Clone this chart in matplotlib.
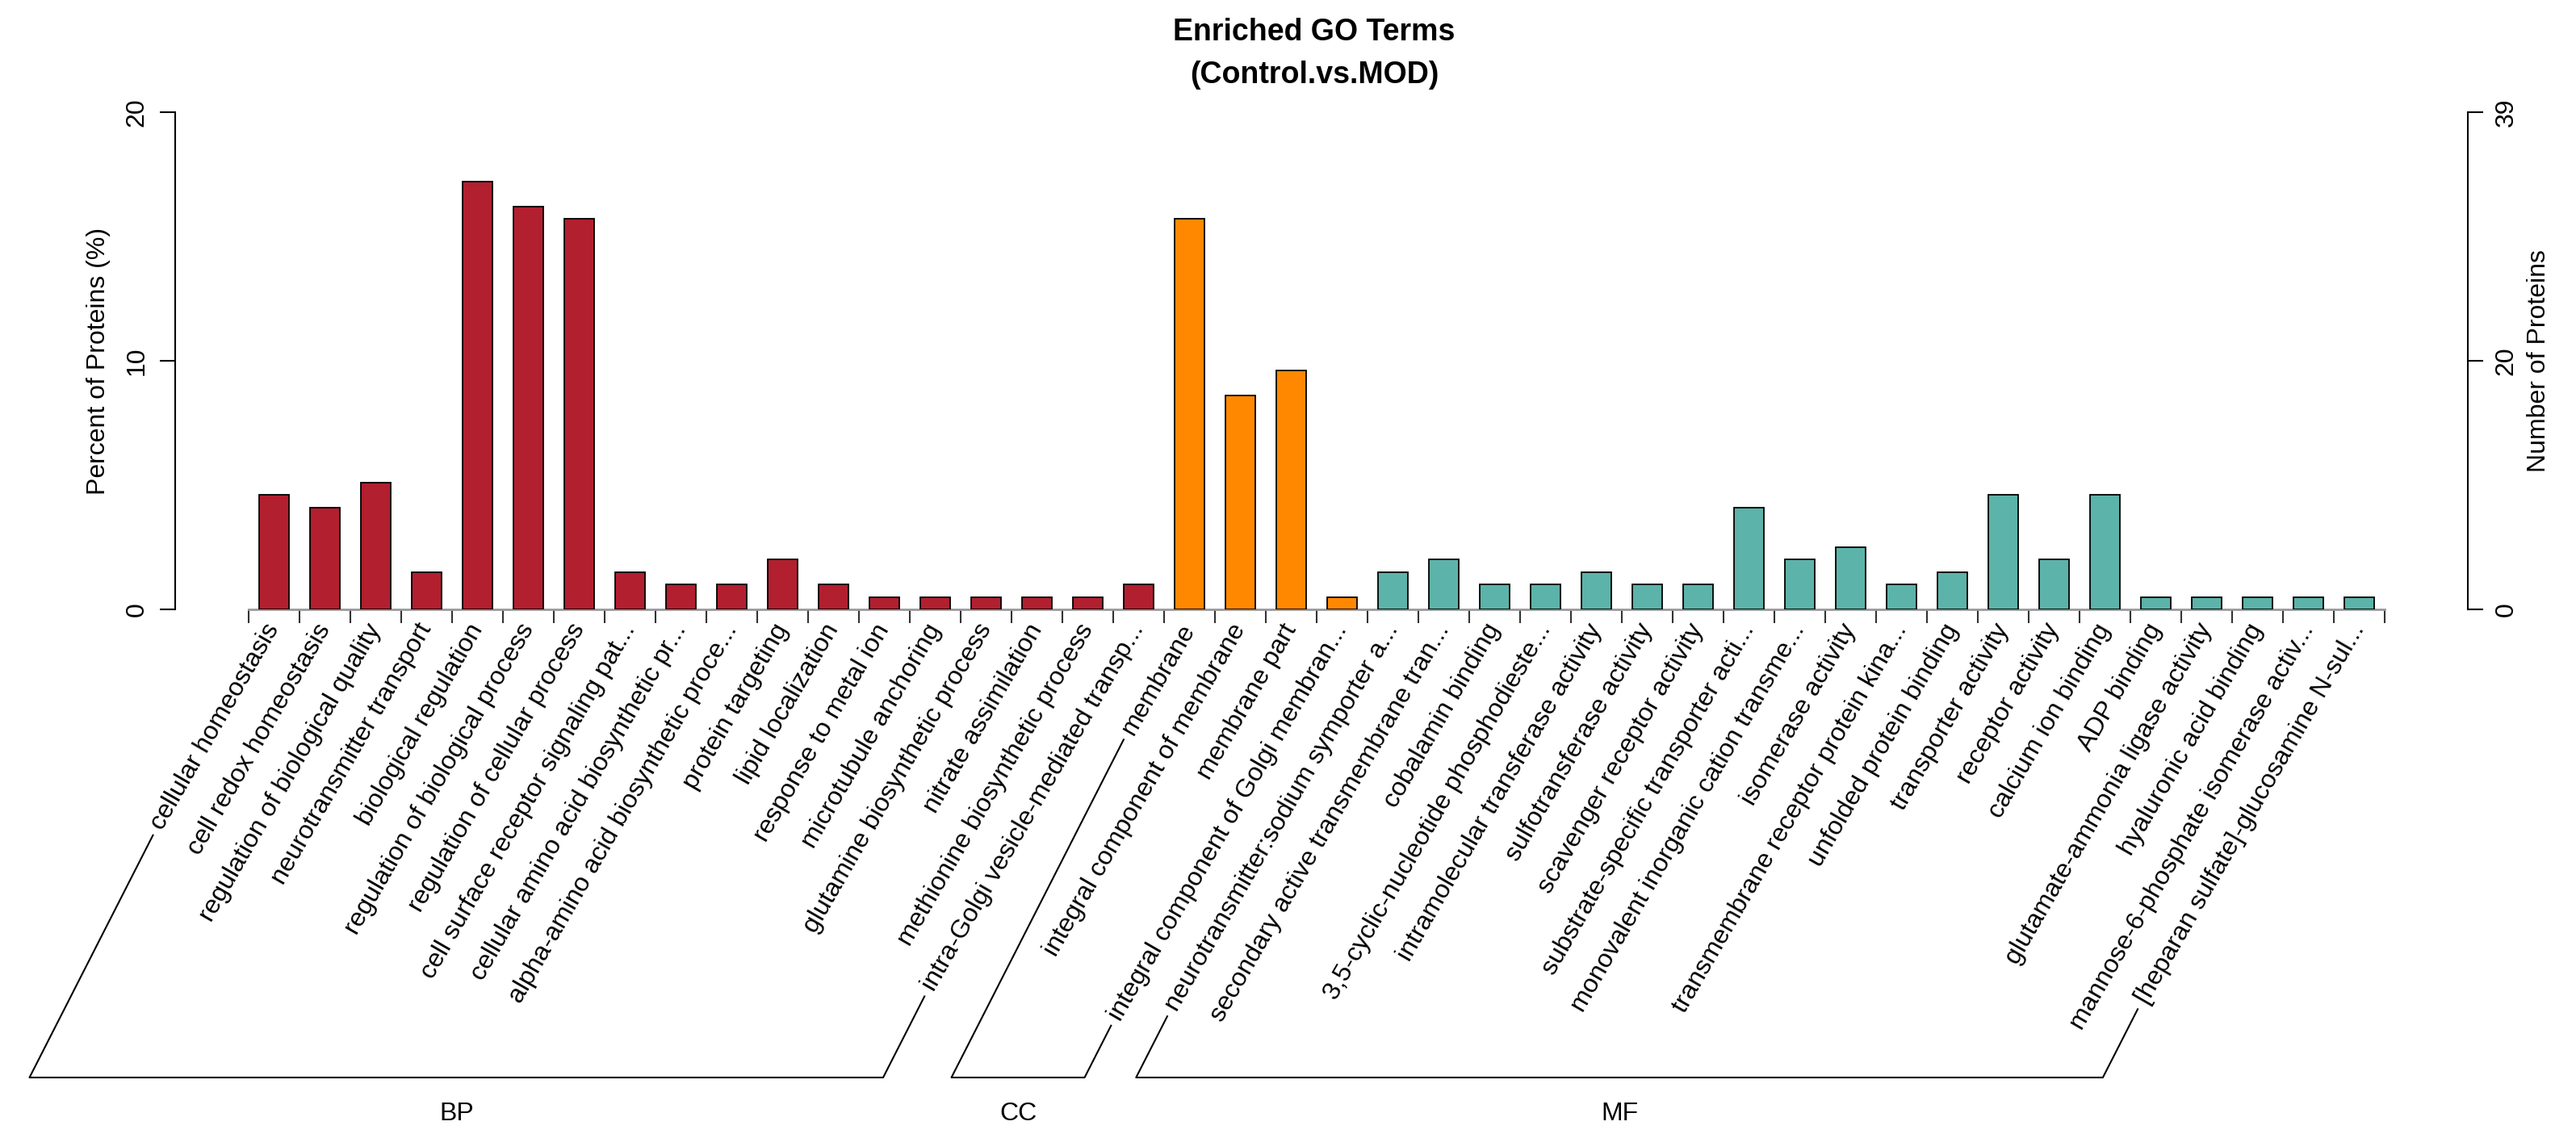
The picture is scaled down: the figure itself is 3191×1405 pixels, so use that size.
import numpy as np
import matplotlib.pyplot as plt
from matplotlib.lines import Line2D

plt.rcParams['font.family'] = ['Liberation Sans', 'DejaVu Sans']

# GO terms and percent of proteins
bp_terms = ['cellular homeostasis', 'cell redox homeostasis',
            'regulation of biological quality', 'neurotransmitter transport',
            'biological regulation', 'regulation of biological process',
            'regulation of cellular process', 'cell surface receptor signaling pat...',
            'cellular amino acid biosynthetic pr...', 'alpha-amino acid biosynthetic proce...',
            'protein targeting', 'lipid localization', 'response to metal ion',
            'microtubule anchoring', 'glutamine biosynthetic process',
            'nitrate assimilation', 'methionine biosynthetic process',
            'intra-Golgi vesicle-mediated transp...']
bp_pct = [4.6, 4.1, 5.1, 1.5, 17.2, 16.2, 15.7, 1.5, 1.0, 1.0,
          2.0, 1.0, 0.5, 0.5, 0.5, 0.5, 0.5, 1.0]

cc_terms = ['membrane', 'integral component of membrane', 'membrane part',
            'integral component of Golgi membran...']
cc_pct = [15.7, 8.6, 9.6, 0.5]

mf_terms = ['neurotransmitter:sodium symporter a...', 'secondary active transmembrane tran...',
            'cobalamin binding', '3,5-cyclic-nucleotide phosphodieste...',
            'intramolecular transferase activity', 'sulfotransferase activity',
            'scavenger receptor activity', 'substrate-specific transporter acti...',
            'monovalent inorganic cation transme...', 'isomerase activity',
            'transmembrane receptor protein kina...', 'unfolded protein binding',
            'transporter activity', 'receptor activity', 'calcium ion binding',
            'ADP binding', 'glutamate-ammonia ligase activity', 'hyaluronic acid binding',
            'mannose-6-phosphate isomerase activ...', '[heparan sulfate]-glucosamine N-sul...']
mf_pct = [1.5, 2.0, 1.0, 1.0, 1.5, 1.0, 1.0, 4.1, 2.0, 2.5,
          1.0, 1.5, 4.6, 2.0, 4.6, 0.5, 0.5, 0.5, 0.5, 0.5]

group_names = ['BP', 'CC', 'MF']
group_colors = ['#B21F2F', '#FF8800', '#5CB3A9']
left_ticks = [0, 10, 20]
right_ticklabels = ['0', '20', '39']

W, H = 3191, 1405
FS = 23
fig = plt.figure(figsize=(W / 100, H / 100), dpi=100)
ax = fig.add_axes([217 / W, 1 - 755 / H, (3057 - 217) / W, (755 - 139) / H])

groups = [bp_terms, cc_terms, mf_terms]
terms = bp_terms + cc_terms + mf_terms
pct = bp_pct + cc_pct + mf_pct
colors = []
for g, c in zip(groups, group_colors):
    colors += [c] * len(g)

x = np.arange(len(terms))
ax.bar(x, pct, width=0.59, color=colors, edgecolor='black', linewidth=1.3, zorder=3)
ax.set_xlim(-1.944, len(terms) - 0.5 + 1.635)
ax.set_ylim(0, 20)

for s in ['top', 'right']:
    ax.spines[s].set_visible(False)
ax.spines['left'].set_linewidth(1.5)
ax.spines['bottom'].set_bounds(-0.5, len(terms) - 0.5)
ax.spines['bottom'].set_color('#999999')
ax.spines['bottom'].set_linewidth(2)
ax.set_xticks(np.arange(len(terms) + 1) - 0.5)
ax.tick_params(axis='x', direction='out', length=12, width=1.5, color='#333333',
               labelbottom=False)
ax.set_yticks(left_ticks)
ax.tick_params(axis='y', direction='out', length=13.5, width=1.5, labelsize=FS,
               labelrotation=90, pad=10)
for t in ax.get_yticklabels():
    t.set_va('center')

ax2 = ax.twinx()
ax2.set_ylim(0, 20)
ax2.set_position(ax.get_position())
for s in ['top', 'left', 'bottom']:
    ax2.spines[s].set_visible(False)
ax2.spines['right'].set_linewidth(1.5)
ax2.set_yticks(left_ticks)
ax2.set_yticklabels(right_ticklabels)
ax2.tick_params(axis='y', direction='out', length=13.5, width=1.5, labelsize=FS,
                labelrotation=90, pad=10)
for t in ax2.get_yticklabels():
    t.set_va('center')

fig.text(122 / W, 1 - 447 / H, 'Percent of Proteins (%)', rotation=90,
         ha='center', va='center', fontsize=FS)
fig.text(3145 / W, 1 - 447 / H, 'Number of Proteins', rotation=90,
         ha='center', va='center', fontsize=FS)

fig.text(1628 / W, 1 - 40 / H, 'Enriched GO Terms', ha='center', va='center',
         fontsize=27, fontweight='bold')
fig.text(1628 / W, 1 - 93 / H, '(Control.vs.MOD)', ha='center', va='center',
         fontsize=27, fontweight='bold')

# rotated term labels, right end just below each bar
renderer = fig.canvas.get_renderer()
ang = np.radians(60)
line_ang = np.radians(63)
label_y = H - 775
starts = []
for i, term in enumerate(terms):
    ax_x = ax.transData.transform((i, 0))[0]
    t = fig.text(ax_x / W, label_y / H, term, rotation=60, rotation_mode='anchor',
                 ha='right', va='center', fontsize=FS)
    w, h, d = renderer.get_text_width_height_descent(term, t.get_fontproperties(), ismath=False)
    starts.append((ax_x - (w + 10) * np.cos(ang), label_y - (w + 10) * np.sin(ang)))

# group brackets under the labels
y_bot = H - 1335
k = 0
for name, g in zip(group_names, groups):
    x0, y0 = starts[k]
    x1, y1 = starts[k + len(g) - 1]
    xb0 = x0 - (y0 - y_bot) / np.tan(line_ang)
    xb1 = x1 - (y1 - y_bot) / np.tan(line_ang)
    xs = np.array([x0, xb0, xb1, x1]) / W
    ys = np.array([y0, y_bot, y_bot, y1]) / H
    fig.add_artist(Line2D(xs, ys, color='black', linewidth=1.5))
    fig.text((xb0 + xb1) / 2 / W, (H - 1380) / H, name, ha='center', va='center',
             fontsize=FS)
    k += len(g)

fig.savefig('out.png', dpi=100)
